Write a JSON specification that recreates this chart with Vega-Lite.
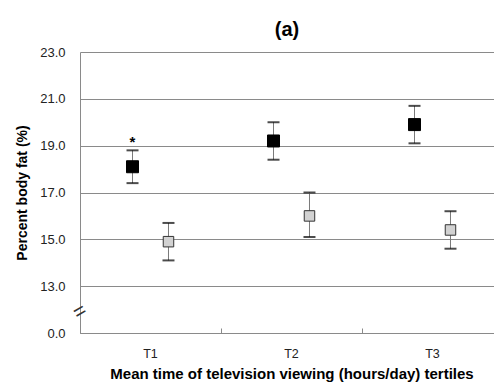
{
  "$schema": "https://vega.github.io/schema/vega-lite/v6.json",
  "width": 414,
  "height": 281,
  "autosize": {"type": "none"},
  "padding": {"left": 80, "top": 52, "right": 0, "bottom": 50},
  "background": "white",
  "title": {"text": "(a)", "fontSize": 20, "fontWeight": "bold", "color": "black", "anchor": "middle", "offset": 6},
  "config": {
    "font": "Liberation Sans",
    "view": {"stroke": null},
    "axisY": {"titleFontSize": 14, "titleFontWeight": "bold", "titleColor": "black"}
  },
  "layer": [
    {
      "data": {
        "values": [
          {"tertile": "T1", "group": "Group A", "mean": 18.1, "lo": 17.4, "hi": 18.8, "note": "*"},
          {"tertile": "T1", "group": "Group B", "mean": 14.9, "lo": 14.1, "hi": 15.7, "note": ""},
          {"tertile": "T2", "group": "Group A", "mean": 19.2, "lo": 18.4, "hi": 20.0, "note": ""},
          {"tertile": "T2", "group": "Group B", "mean": 16.0, "lo": 15.1, "hi": 17.0, "note": ""},
          {"tertile": "T3", "group": "Group A", "mean": 19.9, "lo": 19.1, "hi": 20.7, "note": ""},
          {"tertile": "T3", "group": "Group B", "mean": 15.4, "lo": 14.6, "hi": 16.2, "note": ""}
        ]
      },
      "encoding": {
        "x": {
          "field": "tertile",
          "type": "nominal",
          "scale": {"paddingInner": 0, "paddingOuter": 0, "range": [0, 423]},
          "axis": {
            "title": "Mean time of television viewing (hours/day) tertiles",
            "titleFontSize": 15,
            "titleFontWeight": "bold",
            "titleColor": "black",
            "titlePadding": 7,
            "bandPosition": 0,
            "tickSize": -5,
            "tickColor": "#8a8a8a",
            "domainColor": "#8a8a8a",
            "labelAngle": 0,
            "labelFontSize": 12.5,
            "labelColor": "#222222",
            "labelPadding": 19
          }
        },
        "xOffset": {
          "field": "group",
          "type": "nominal",
          "scale": {"paddingInner": 0, "paddingOuter": 0.96}
        }
      },
      "layer": [
        {
          "mark": {"type": "rule", "color": "#7a7a7a", "strokeWidth": 1},
          "encoding": {
            "y": {
              "field": "lo",
              "type": "quantitative",
              "scale": {"domain": [11, 23], "nice": false, "zero": false},
              "axis": {
                "values": [11, 13, 15, 17, 19, 21, 23],
                "labelExpr": "datum.value == 11 ? '0.0' : format(datum.value, '.1f')",
                "title": "Percent body fat (%)",
                "grid": true,
                "gridColor": "#8a8a8a",
                "ticks": false,
                "domainColor": "#8a8a8a",
                "labelPadding": 15,
                "labelFontSize": 13,
                "labelColor": "#222222",
                "titlePadding": 10
              }
            },
            "y2": {"field": "hi"}
          }
        },
        {
          "mark": {"type": "tick", "color": "black", "thickness": 2, "size": 12, "orient": "horizontal"},
          "encoding": {"y": {"field": "lo", "type": "quantitative"}}
        },
        {
          "mark": {"type": "tick", "color": "black", "thickness": 2, "size": 12, "orient": "horizontal"},
          "encoding": {"y": {"field": "hi", "type": "quantitative"}}
        },
        {
          "mark": {"type": "square", "opacity": 1, "strokeWidth": 1, "filled": true},
          "encoding": {
            "y": {"field": "mean", "type": "quantitative"},
            "fill": {"field": "group", "type": "nominal", "scale": {"domain": ["Group A", "Group B"], "range": ["#000000", "#d2d2d2"]}, "legend": null},
            "stroke": {"field": "group", "type": "nominal", "scale": {"domain": ["Group A", "Group B"], "range": ["#000000", "#333333"]}, "legend": null},
            "size": {"field": "group", "type": "nominal", "scale": {"domain": ["Group A", "Group B"], "range": [144, 110]}, "legend": null}
          }
        },
        {
          "mark": {"type": "text", "fontSize": 15, "fontWeight": "bold", "baseline": "alphabetic", "dy": -3, "color": "black"},
          "encoding": {
            "y": {"field": "hi", "type": "quantitative"},
            "text": {"field": "note"}
          }
        }
      ]
    },
    {
      "data": {"values": [{"pos": 0, "mean": 11.9, "sym": "="}]},
      "mark": {"type": "text", "fontSize": 21, "angle": -30, "color": "#333333", "baseline": "middle", "align": "center"},
      "encoding": {
        "x": {"field": "pos", "type": "quantitative", "scale": {"domain": [0, 1]}, "axis": null},
        "y": {"field": "mean", "type": "quantitative", "title": "Percent body fat (%)"},
        "text": {"field": "sym"}
      }
    }
  ],
  "resolve": {"scale": {"x": "independent"}, "axis": {"x": "independent"}}
}
